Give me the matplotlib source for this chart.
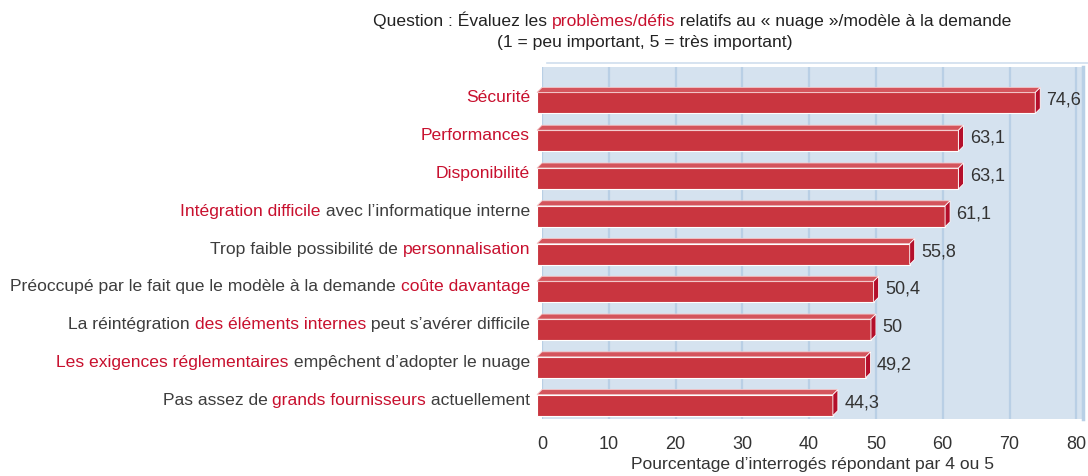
import matplotlib
matplotlib.use("Agg")
import matplotlib.pyplot as plt
from matplotlib.patches import Rectangle, Polygon
from matplotlib.lines import Line2D

plt.rcParams['font.family'] = ['Liberation Sans', 'DejaVu Sans']

RED = '#c8102e'
GRAY = '#3d3d3d'
FS = 12.6

label_segments = [
    [("Sécurité", True)],
    [("Performances", True)],
    [("Disponibilité", True)],
    [("Intégration difficile", True), (" avec l’informatique interne", False)],
    [("Trop faible possibilité de ", False), ("personnalisation", True)],
    [("Préoccupé par le fait que le modèle à la demande ", False), ("coûte davantage", True)],
    [("La réintégration ", False), ("des éléments internes", True), (" peut s’avérer difficile", False)],
    [("Les exigences réglementaires", True), (" empêchent d’adopter le nuage", False)],
    [("Pas assez de ", False), ("grands fournisseurs", True), (" actuellement", False)],
]
values = [74.6, 63.1, 63.1, 61.1, 55.8, 50.4, 50, 49.2, 44.3]
value_labels = ["74,6", "63,1", "63,1", "61,1", "55,8", "50,4", "50", "49,2", "44,3"]
xticks = [0, 10, 20, 30, 40, 50, 60, 70, 80]

title_parts = [("Question : Évaluez les ", False), ("problèmes/défis", True),
               (" relatifs au « nuage »/modèle à la demande", False)]
subtitle = "(1 = peu important, 5 = très important)"
xlabel = "Pourcentage d’interrogés répondant par 4 ou 5"

W, H = 1088, 476
fig = plt.figure(figsize=(W / 100, H / 100), dpi=100)
ax = fig.add_axes([542 / W, 1 - 419 / H, (1083 - 542) / W, (419 - 67) / H])
ax.set_facecolor('#d5e2ef')
ax.set_xlim(0, 81)
ax.set_ylim(8.50, -0.82)
for s in ['top', 'bottom', 'left']:
    ax.spines[s].set_visible(False)
ax.spines['right'].set_color('#b9d0e6')
ax.spines['right'].set_linewidth(2.5)
ax.set_xticks(xticks)
ax.set_yticks([])
ax.tick_params(axis='x', length=0, pad=12, labelsize=13, labelcolor='#333333')
ax.xaxis.grid(True, color='#b9cfe5', linewidth=1.6)
ax.set_axisbelow(True)
ax.set_xlabel(xlabel, fontsize=FS, color='#333333', labelpad=3)

# pixel -> data conversions
p0 = ax.transData.transform((0, 0))
p1 = ax.transData.transform((1, 1))
px_x = p1[0] - p0[0]
px_y = abs(p1[1] - p0[1])
ddx = 5 / px_x
ddy = 5 / px_y
h = 21 / px_y

for i, v in enumerate(values):
    top = i - h / 2
    bot = i + h / 2
    # front face
    ax.add_patch(Rectangle((-ddx, top + ddy), v, h, facecolor='#c9353f',
                           edgecolor='white', linewidth=0.8, zorder=3, clip_on=False))
    # top face
    ax.add_patch(Polygon([(-ddx, top + ddy), (0, top), (v, top), (v - ddx, top + ddy)],
                         closed=True, facecolor='#d4545c', edgecolor='#f3c7c9',
                         linewidth=0.6, zorder=3, clip_on=False))
    # end face
    ax.add_patch(Polygon([(v - ddx, top + ddy), (v, top), (v, bot), (v - ddx, bot + ddy)],
                         closed=True, facecolor='#b40f2b', edgecolor='white',
                         linewidth=0.6, zorder=3, clip_on=False))
    ax.annotate(value_labels[i], xy=(v, i + ddy / 2), xytext=(4.5, 0),
                textcoords='offset points', ha='left', va='center',
                fontsize=13, color='#333333')

    # category labels, built right to left
    segs = label_segments[i]
    prev = None
    for text, red in reversed(segs):
        col = RED if red else GRAY
        if prev is None:
            prev = ax.annotate(text, xy=(0, i), xycoords=('axes fraction', 'data'),
                               xytext=(-8.6, 0), textcoords='offset points',
                               ha='right', va='center', fontsize=FS, color=col,
                               annotation_clip=False)
        else:
            prev = ax.annotate(text, xy=(0, 0), xycoords=prev, ha='right', va='bottom',
                               fontsize=FS, color=col, annotation_clip=False)

# top back-wall line
fig.add_artist(Line2D([547 / W, 1], [1 - 63 / H, 1 - 63 / H], color='#cfdeee', linewidth=1.2))

# title
prev = None
for text, red in title_parts:
    col = RED if red else '#222222'
    if prev is None:
        prev = fig.text(373 / W, 1 - 20 / H, text, ha='left', va='center', fontsize=FS, color=col)
    else:
        prev = ax.annotate(text, xy=(1, 0), xycoords=prev, ha='left', va='bottom',
                           fontsize=FS, color=col, annotation_clip=False)
fig.text(645 / W, 1 - 42 / H, subtitle, ha='center', va='center', fontsize=FS, color='#222222')

fig.savefig('out.png', dpi=100)
